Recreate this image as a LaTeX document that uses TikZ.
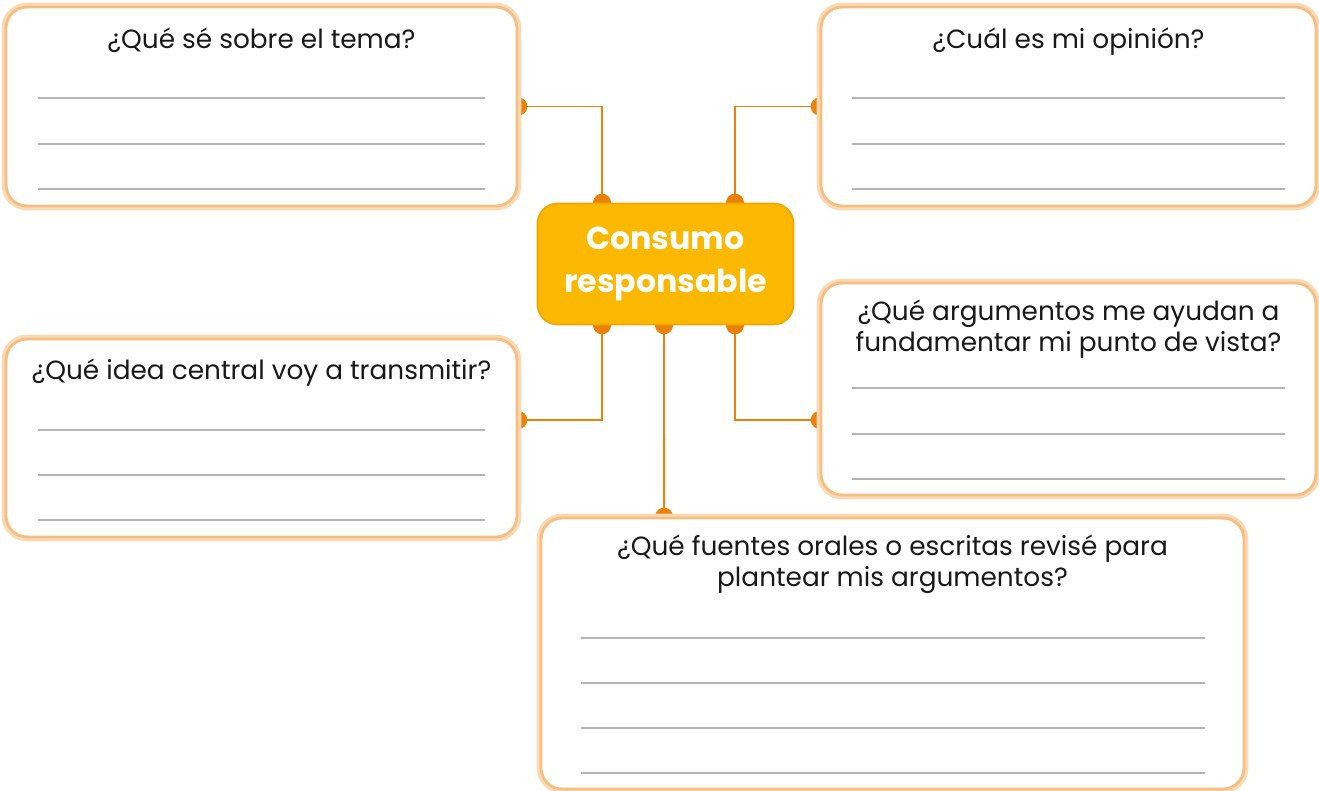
\documentclass[tikz,border=0pt]{standalone}
\usepackage{fontspec}
\setmainfont{Poppins}
\usetikzlibrary{positioning, backgrounds}

\definecolor{linkc}{RGB}{233,130,10}
\definecolor{glowc}{RGB}{250,218,180}
\definecolor{edgec}{RGB}{246,190,128}
\definecolor{hubc}{RGB}{251,184,0}
\definecolor{hubedge}{RGB}{244,166,0}
\definecolor{rulec}{RGB}{180,180,180}
\definecolor{inkc}{RGB}{25,25,25}

\begin{document}
\begin{tikzpicture}[
  x=0.02cm, y=-0.02cm,
  box/.style = {draw=edgec, line width=1.6pt, fill=white, rounded corners=0.42cm,
                preaction={draw=glowc, line width=5pt}, inner sep=0pt},
  hub/.style = {draw=hubedge, line width=1pt, fill=hubc, rounded corners=0.4cm,
                minimum width=5.12cm, minimum height=2.42cm, align=center,
                text=white, font=\fontsize{18}{24}\selectfont\bfseries},
  ask/.style = {inner sep=0pt, align=center, text=inkc,
                font=\fontsize{15}{17.8}\selectfont},
  link/.style = {draw=linkc, line width=1.1pt},
  dot/.style = {fill=linkc},
  rule/.style = {draw=rulec, line width=1.1pt}
]
\useasboundingbox (0,0) rectangle (1319,791);

% Hub
\node (hub) [hub] at (665.5,264) {Consumo\\responsable};

% Question boxes
\node (tema)   [box, minimum width=10.22cm, minimum height=3.98cm] at (261.5,106.5) {};
\node (opin)   [box, minimum width=9.9cm,   minimum height=3.98cm] at (1068.5,106.5) {};
\node (arg)    [box, minimum width=9.9cm,   minimum height=4.24cm] at (1068.5,389) {};
\node (idea)   [box, minimum width=10.22cm, minimum height=3.96cm] at (261.5,438) {};
\node (fuente) [box, minimum width=14.06cm, minimum height=5.42cm] at (892.5,653.5) {};

% Titles
\node (temaT)   [ask, below=0.44cm of tema.north]   {¿Qué sé sobre el tema?};
\node (opinT)   [ask, below=0.44cm of opin.north]   {¿Cuál es mi opinión?};
\node (argT)    [ask, below=0.36cm of arg.north]    {¿Qué argumentos me ayudan a\\fundamentar mi punto de vista?};
\node (ideaT)   [ask, below=0.42cm of idea.north]   {¿Qué idea central voy a transmitir?};
\node (fuenteT) [ask, below=0.36cm of fuente.north] {¿Qué fuentes orales o escritas revisé para\\plantear mis argumentos?};

% Writing lines
\foreach \y in {98,144,189} \draw[rule] (38,\y) -- (485,\y);
\foreach \y in {98,144,189} \draw[rule] (852,\y) -- (1285,\y);
\foreach \y in {388,434,479} \draw[rule] (852,\y) -- (1285,\y);
\foreach \y in {430,475,520} \draw[rule] (38,\y) -- (485,\y);
\foreach \y in {638,683,728,773} \draw[rule] (581,\y) -- (1205,\y);

% Connector ends
\coordinate (hubNW) at ([xshift=-1.27cm]hub.north);
\coordinate (hubNE) at ([xshift=1.39cm]hub.north);
\coordinate (hubSW) at ([xshift=-1.27cm]hub.south);
\coordinate (hubSE) at ([xshift=1.39cm]hub.south);
\coordinate (hubS)  at ([xshift=-0.03cm]hub.south);
\coordinate (ideaE) at ([yshift=0.36cm]idea.east);
\coordinate (argW)  at ([yshift=-0.62cm]arg.west);
\coordinate (fuenteN) at ([xshift=-4.57cm]fuente.north);

% Connectors (behind the boxes)
\begin{scope}[on background layer]
  \draw[link] (tema.east) -| (hubNW);
  \draw[link] (opin.west) -| (hubNE);
  \draw[link] (ideaE) -| (hubSW);
  \draw[link] (argW) -| (hubSE);
  \draw[link] (fuenteN) -- (hubS);
  \foreach \p in {tema.east, opin.west, hubNW, hubNE, hubSW, hubSE, hubS, ideaE, argW, fuenteN}
    \fill[dot] (\p) circle (0.18cm);
\end{scope}

\end{tikzpicture}
\end{document}
